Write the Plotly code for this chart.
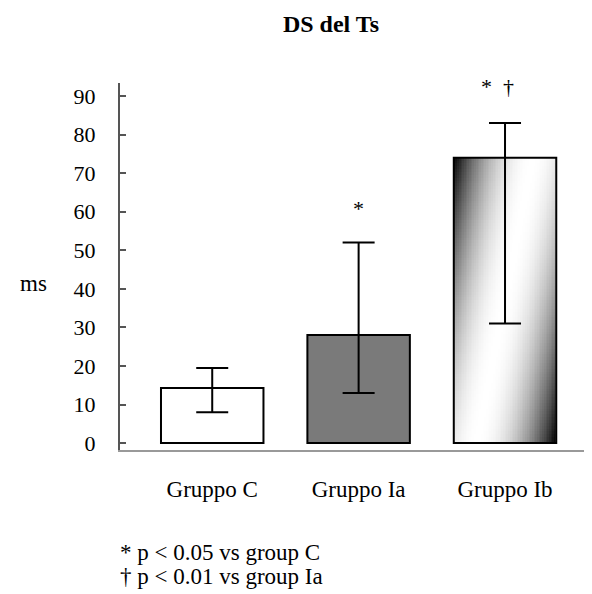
import numpy as np
import plotly.graph_objects as go

# ---- data ----
categories = ["Gruppo C", "Gruppo Ia", "Gruppo Ib"]
means = [14.3, 28.0, 74.0]
err_plus = [5.2, 24.0, 9.0]
err_minus = [6.3, 15.0, 43.0]
y_ticks = [0, 10, 20, 30, 40, 50, 60, 70, 80, 90]
sig_marks = ["", "*", "*  \u2020"]
title_text = "DS del Ts"
y_label = "ms"
footnotes = ["* p < 0.05 vs group C", "\u2020 p < 0.01 vs group Ia"]

FONT = "Liberation Serif"
xpos = list(range(len(categories)))
bar_w = 0.7
fills = ["white", "#7a7a7a", "rgba(0,0,0,0)"]

fig = go.Figure()

# gradient fill for the third bar (drawn under the bar outline)
gi = 2
nx, ny = 60, 100
x_edges = np.linspace(xpos[gi] - bar_w / 2, xpos[gi] + bar_w / 2, nx + 1)
y_edges = np.linspace(0, means[gi], ny + 1)
u = (np.arange(nx) + 0.5) / nx
v = (np.arange(ny) + 0.5) / ny
U, V = np.meshgrid(u, v)
a = 0.55
c = (1 + a) / 2
s = U + a * (1 - V)
t = np.clip(np.abs(s - c) / c, 0, 1)
shade = 1 - t ** 2.0
fig.add_trace(go.Heatmap(
    x=x_edges, y=y_edges, z=shade,
    colorscale=[[0, "#000000"], [1, "#ffffff"]], zmin=0, zmax=1,
    showscale=False, hoverinfo="skip",
))

fig.add_trace(go.Bar(
    x=xpos, y=means, width=bar_w,
    marker=dict(color=fills, line=dict(color="black", width=2)),
    error_y=dict(type="data", symmetric=False, array=err_plus, arrayminus=err_minus,
                 color="black", thickness=2, width=16),
    showlegend=False,
))

# significance marks
for i, m in enumerate(sig_marks):
    if m:
        fig.add_annotation(x=xpos[i], y=means[i] + err_plus[i], text=m, showarrow=False,
                           yshift=34 if i == 1 else 37, xshift=0 if i == 1 else -8,
                           font=dict(family=FONT, size=22, color="black"))

fig.add_annotation(xref="paper", yref="paper", x=-0.186, y=0.455, text=y_label,
                   showarrow=False, xanchor="center", yanchor="middle",
                   font=dict(family=FONT, size=23, color="black"))

for k, fn in enumerate(footnotes):
    fig.add_annotation(xref="paper", yref="paper", x=-0.005, y=-0.28 - k * 0.065,
                       text=fn, showarrow=False, xanchor="left", yanchor="middle",
                       font=dict(family=FONT, size=23, color="black"))

fig.update_layout(
    width=584, height=586,
    margin=dict(l=112, r=5, t=75, b=144),
    paper_bgcolor="white", plot_bgcolor="white",
    title=dict(text="<b>" + title_text + "</b>", x=0.553, xanchor="center", y=0.973, yanchor="middle",
               font=dict(family=FONT, size=24, color="black")),
    xaxis=dict(range=[-0.63, 2.56], tickvals=xpos, ticktext=categories,
               showline=True, linecolor="#999", linewidth=2, showgrid=False, zeroline=False,
               ticks="outside", ticklen=17, tickcolor="rgba(0,0,0,0)",
               tickfont=dict(family=FONT, size=23, color="black")),
    yaxis=dict(range=[-1.8, 93.4], tickvals=y_ticks,
               showline=True, linecolor="#555", linewidth=2, showgrid=False, zeroline=False,
               ticks="inside", ticklen=6, tickwidth=2, tickcolor="#555",
               ticklabelstandoff=18,
               tickfont=dict(family=FONT, size=22, color="black")),
)

fig.write_html("out.html")
